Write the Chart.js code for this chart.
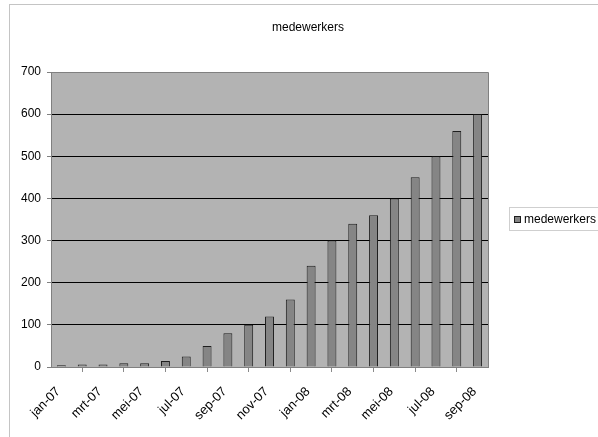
<!DOCTYPE html>
<html>
<head>
<meta charset="utf-8">
<script src="https://cdn.jsdelivr.net/npm/chart.js@4/dist/chart.umd.min.js"></script>
<style>
  html, body { margin: 0; padding: 0; background: #fff; }
  #wrap { width: 598px; height: 437px; }
</style>
</head>
<body>
<div id="wrap"><canvas id="c" width="598" height="437"></canvas></div>
<script>
// Monthly categories
const months = ['jan-07','feb-07','mrt-07','apr-07','mei-07','jun-07','jul-07','aug-07','sep-07','okt-07','nov-07','dec-07',
                'jan-08','feb-08','mrt-08','apr-08','mei-08','jun-08','jul-08','aug-08','sep-08'];
// Head count per month
const medewerkers = [4, 6, 6, 9, 9, 14, 25, 50, 80, 100, 120, 160, 240, 300, 340, 360, 400, 450, 500, 560, 600];
const seriesName = 'medewerkers';
const chartTitle = 'medewerkers';

const FONT = "'Liberation Sans', Arial, sans-serif";

// Frame, plot background and plot border, plus a boxed legend on the right
const decor = {
  id: 'decor',
  beforeDraw(chart) {
    const { ctx, chartArea: a } = chart;
    ctx.save();
    ctx.strokeStyle = '#c4c4c4';
    ctx.lineWidth = 1;
    ctx.strokeRect(9.5, 4.5, 700, 600);
    ctx.fillStyle = '#b3b3b3';
    ctx.fillRect(a.left, a.top, a.right - a.left, a.bottom - a.top);
    ctx.restore();
  },
  beforeDatasetsDraw(chart) {
    const { ctx, chartArea: a } = chart;
    ctx.save();
    ctx.strokeStyle = '#808080';
    ctx.lineWidth = 1;
    ctx.beginPath();
    ctx.moveTo(a.left, a.top + 0.5);
    ctx.lineTo(a.right + 0.5, a.top + 0.5);
    ctx.lineTo(a.right + 0.5, a.bottom);
    ctx.stroke();
    ctx.restore();
  },
  afterDraw(chart) {
    const { ctx } = chart;
    const ds = chart.data.datasets[0];
    ctx.save();
    ctx.strokeStyle = '#cfcfcf';
    ctx.lineWidth = 1;
    ctx.strokeRect(509.5, 207.5, 120, 23);
    ctx.fillStyle = ds.backgroundColor;
    ctx.strokeStyle = ds.borderColor;
    ctx.fillRect(514, 216, 7, 7);
    ctx.strokeRect(514.5, 216.5, 6, 6);
    ctx.fillStyle = '#000';
    ctx.font = '12px ' + FONT;
    ctx.textBaseline = 'middle';
    ctx.fillText(ds.label, 524, 220);
    ctx.restore();
  }
};

new Chart(document.getElementById('c'), {
  type: 'bar',
  data: {
    labels: months,
    datasets: [{
      label: seriesName,
      data: medewerkers,
      backgroundColor: '#858585',
      borderColor: '#1e1e1e',
      borderWidth: 1,
      barPercentage: 0.43,
      categoryPercentage: 1
    }]
  },
  options: {
    responsive: false,
    animation: false,
    devicePixelRatio: 1,
    layout: { padding: { left: 18, right: 0, top: 0, bottom: 0 } },
    plugins: {
      legend: { display: false },
      tooltip: { enabled: false },
      title: {
        display: true,
        text: chartTitle,
        color: '#000',
        font: { family: FONT, size: 12, weight: 'normal' },
        padding: { top: 20, bottom: 37.6 }
      }
    },
    scales: {
      x: {
        offset: true,
        grid: {
          offset: true,
          drawOnChartArea: false,
          drawTicks: true,
          tickLength: 5,
          color: '#8a8a8a'
        },
        border: { display: true, color: '#808080' },
        ticks: {
          autoSkip: false,
          maxRotation: 45,
          minRotation: 45,
          padding: 12,
          labelOffset: -3,
          color: '#000',
          font: { family: FONT, size: 13 },
          callback(value, index) {
            return index % 2 === 0 ? this.getLabelForValue(value) : null;
          }
        },
        afterFit(s) { s.height = 70; }
      },
      y: {
        min: 0,
        max: 700,
        ticks: {
          stepSize: 100,
          padding: 6,
          color: '#000',
          font: { family: FONT, size: 12 }
        },
        grid: {
          color: (ctx) => (ctx.tick && (ctx.tick.value === 0 || ctx.tick.value === 700)) ? 'rgba(0,0,0,0)' : '#000',
          tickColor: '#808080',
          tickLength: 4,
          lineWidth: 1
        },
        border: { display: true, color: '#808080' },
        afterFit(s) { s.width = 33; }
      },
      side: {
        position: 'right',
        display: true,
        min: 0,
        max: 700,
        grid: { drawOnChartArea: false, drawTicks: false },
        border: { display: false },
        ticks: { display: false },
        afterFit(s) { s.width = 110; }
      }
    }
  },
  plugins: [decor]
});
</script>
</body>
</html>
